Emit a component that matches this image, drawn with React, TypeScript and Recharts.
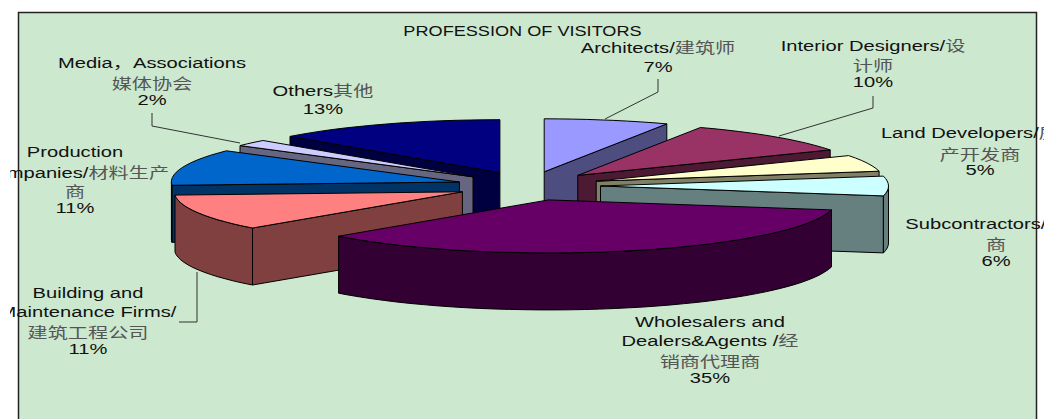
import React from 'react'
import { PieChart, Pie } from 'recharts'

const professions = [
  'Architects',
  'Interior Designers',
  'Land Developers',
  'Subcontractors',
  'Wholesalers',
  'Building',
  'Production',
  'Media',
  'Others',
]
const shares = [7, 10, 5, 6, 35, 11, 11, 2, 13]
const topColors = ['#9999FF', '#993366', '#FFFFCC', '#CCFFFF', '#660066', '#FF8080', '#0066CC', '#CCCCFF', '#000080']
const sideColors = ['#4D4D80', '#4D1A33', '#808066', '#668080', '#330033', '#804040', '#003366', '#666680', '#000040']

// back slices first, the big front slice last
const drawOrder = ['Others', 'Media', 'Production', 'Building', 'Architects', 'Interior Designers', 'Land Developers', 'Subcontractors', 'Wholesalers']

const labelLines = [
  ['Architects/建筑师'],
  ['Interior Designers/设', '计师'],
  ['Land Developers/房地', '产开发商'],
  ['Subcontractors/分包', '商'],
  ['Wholesalers and', 'Dealers&Agents /经', '销商代理商'],
  ['Building and', 'Maintenance Firms/', '建筑工程公司'],
  ['Production', 'Companies/材料生产', '商'],
  ['Media，Associations', '媒体协会'],
  ['Others其他'],
]
const labelCenters = [658, 873, 980, 996, 710, 88, 75, 152, 323]
const labelBaselines = [
  [53, 72],
  [51, 71, 87],
  [138, 160, 175],
  [229, 250, 266],
  [327, 346, 367, 383],
  [298, 317, 338, 354],
  [157, 178, 197, 213],
  [68, 89, 105],
  [96, 114],
]
const leaderLines = [
  'M658 79V92L605 119',
  'M873 96V108L779 136',
  'M152 113V126L240 143',
  'M197 272V322H179',
]

const chartData = professions.map((name, i) => ({
  name,
  value: shares[i],
  fill: topColors[i],
  side: sideColors[i],
}))

const CX = 528.5
const CY = 186
const RX = 288
const RY = 53
const DEPTH = 57
const EXPLODE_X = 72
const EXPLODE_Y = 14.5

const rad = (deg: number) => (deg * Math.PI) / 180

function Slice3D(props: any) {
  // recharts angles run counter clockwise from 3 o'clock, flip to clockwise from top
  const from = 90 - Math.max(props.startAngle, props.endAngle)
  const to = 90 - Math.min(props.startAngle, props.endAngle)
  const mid = (from + to) / 2
  const r = props.outerRadius
  const k = RY / RX
  const ax = props.cx + EXPLODE_X * Math.sin(rad(mid))
  const ay = props.cy - EXPLODE_Y * Math.cos(rad(mid))
  const pt = (a: number, dy = 0) => [ax + r * Math.sin(rad(a)), ay - r * k * Math.cos(rad(a)) + dy]
  const arc = (a: number, b: number, dy = 0) => {
    const out = []
    const n = Math.max(2, Math.ceil((b - a) / 3))
    for (let i = 0; i <= n; i++) out.push(pt(a + ((b - a) * i) / n, dy))
    return out
  }
  const poly = (pts: number[][]) => pts.map(p => `${p[0].toFixed(1)},${p[1].toFixed(1)}`).join(' ')
  const apex = [ax, ay]
  const apexLow = [ax, ay + DEPTH]
  const frontFrom = Math.max(from, 90)
  const frontTo = Math.min(to, 270)
  // a cut face only shows when it turns toward the viewer
  const showFrom = Math.sin(rad(from)) < -0.001
  const showTo = Math.sin(rad(to)) > 0.001
  const line = { stroke: '#000', strokeWidth: 1, strokeLinejoin: 'round' as const }
  return (
    <g>
      {showFrom && <polygon points={poly([apex, pt(from), pt(from, DEPTH), apexLow])} fill={props.side} {...line} />}
      {showTo && <polygon points={poly([apex, pt(to), pt(to, DEPTH), apexLow])} fill={props.side} {...line} />}
      {frontFrom < frontTo && (
        <polygon
          points={poly([...arc(frontFrom, frontTo), ...arc(frontFrom, frontTo, DEPTH).reverse()])}
          fill={props.side}
          {...line}
        />
      )}
      <polygon points={poly([apex, ...arc(from, to)])} fill={props.fill} {...line} />
    </g>
  )
}

function TextLine({ x, y, text, stretch = 1.39 }: { x: number; y: number; text: string; stretch?: number }) {
  const parts = text.match(/[\u3000-\u9fff\uff00-\uffef]+|[^\u3000-\u9fff\uff00-\uffef]+/g) || []
  return (
    <text
      transform={`translate(${x},${y}) scale(${stretch},1)`}
      textAnchor="middle"
      fontFamily="'Liberation Sans', 'Noto Sans CJK SC', sans-serif"
      fontSize={14.5}
      fill="#111"
    >
      {parts.map((p, i) => {
        const cjk = /[\u3000-\u9fff]/.test(p)
        return (
          <tspan key={i} fill={cjk ? '#555' : '#111'} fontSize={14.5}>
            {p}
          </tspan>
        )
      })}
    </text>
  )
}

export default function App() {
  return (
    <div style={{ position: 'absolute', left: 0, top: 0, width: 1044, height: 419 }}>
      <PieChart width={1044} height={419} margin={{ top: 0, right: 0, bottom: 0, left: 0 }}>
        <rect x={18.5} y={12.5} width={1018} height={420} fill="#CCE8CF" stroke="#222" strokeWidth={1.5} />
        {drawOrder.map(name => (
          <Pie
            key={name}
            data={chartData}
            dataKey="value"
            nameKey="name"
            cx={CX}
            cy={CY}
            outerRadius={RX}
            startAngle={90}
            endAngle={-270}
            isAnimationActive={false}
            legendType="none"
            label={false}
            labelLine={false}
            shape={(props: any) => (props.name === name ? <Slice3D {...props} /> : <g />)}
          />
        ))}
        {leaderLines.map(d => (
          <path key={d} d={d} fill="none" stroke="#333" strokeWidth={1} />
        ))}
        <defs>
          <clipPath id="labelClip">
            <rect x={10} y={0} width={1034} height={419} />
          </clipPath>
        </defs>
        <g clipPath="url(#labelClip)">
          <TextLine x={522.5} y={36} text="PROFESSION OF VISITORS" stretch={1.25} />
          {labelLines.map((lines, i) =>
            [...lines, `${shares[i]}%`].map((t, j) => (
              <TextLine key={`${i}-${j}`} x={labelCenters[i]} y={labelBaselines[i][j]} text={t} />
            ))
          )}
        </g>
      </PieChart>
    </div>
  )
}
